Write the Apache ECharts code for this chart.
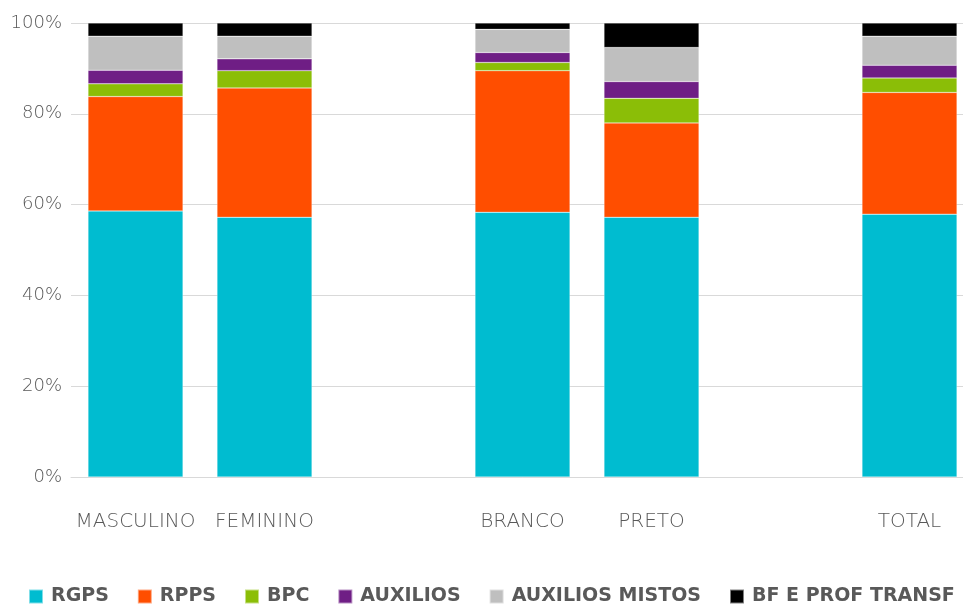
<!DOCTYPE html>
<html><head><meta charset="utf-8">
<script src="https://cdn.jsdelivr.net/npm/echarts@6/dist/echarts.min.js"></script>
<style>html,body{margin:0;padding:0;background:#fff;overflow:hidden;width:963px;height:605px}#c{width:974px;height:605px}</style>
</head><body><div id="c"></div>
<script>
const categories = ['MASCULINO', 'FEMININO', '', 'BRANCO', 'PRETO', '', 'TOTAL'];
const seriesNames = ['RGPS', 'RPPS', 'BPC', 'AUXILIOS', 'AUXILIOS MISTOS', 'BF E PROF TRANSF'];
const rgps    = [58.6, 57.2, null, 58.3, 57.2, null, 57.9];
const rpps    = [25.2, 28.5, null, 31.2, 20.8, null, 26.8];
const bpc     = [2.8, 3.8, null, 1.8, 5.4, null, 3.2];
const auxilios = [3.0, 2.6, null, 2.2, 3.7, null, 2.8];
const auxMistos = [7.5, 5.0, null, 5.1, 7.5, null, 6.4];
const bfProf  = [2.9, 2.9, null, 1.4, 5.4, null, 2.9];
const yTicks = [0, 20, 40, 60, 80, 100];
const colors = ['#00BCD0', '#FF4E00', '#8BBE07', '#6F1E85', '#BFBFBF', '#000000'];
const dataSets = [rgps, rpps, bpc, auxilios, auxMistos, bfProf];

const chart = echarts.init(document.getElementById('c'), null, {renderer: 'canvas'});
chart.setOption({
  animation: false,
  backgroundColor: '#fff',
  grid: {left: 71, top: 23, right: 0, height: 454, containLabel: false},
  legend: {
    top: 582, left: 23,
    itemWidth: 14, itemHeight: 14, itemGap: 28,
    icon: 'rect',
    textStyle: {fontFamily: 'DejaVu Sans', fontWeight: 'bold', fontSize: 19, color: '#595959', padding: [0, 0, 0, 3]},
    data: seriesNames
  },
  xAxis: {
    type: 'category', data: categories,
    axisLine: {show: true, lineStyle: {color: '#D9D9D9', width: 1}},
    axisTick: {show: false},
    axisLabel: {interval: 0, margin: 35, fontFamily: 'DejaVu Sans', fontWeight: 200, fontSize: 20, color: '#595959'}
  },
  yAxis: {
    type: 'value', min: yTicks[0], max: yTicks[yTicks.length - 1], interval: 20,
    axisLine: {show: false}, axisTick: {show: false},
    splitLine: {lineStyle: {color: '#D9D9D9', width: 1}},
    axisLabel: {formatter: v => v + '%', margin: 9, fontFamily: 'DejaVu Sans', fontWeight: 200, fontSize: 18, color: '#595959'}
  },
  series: seriesNames.map((n, i) => ({
    name: n, type: 'bar', stack: 'total', barWidth: 95,
    data: dataSets[i],
    itemStyle: {color: colors[i], borderColor: 'rgba(255,255,255,0.5)', borderWidth: 0.5}
  }))
});
</script></body></html>
